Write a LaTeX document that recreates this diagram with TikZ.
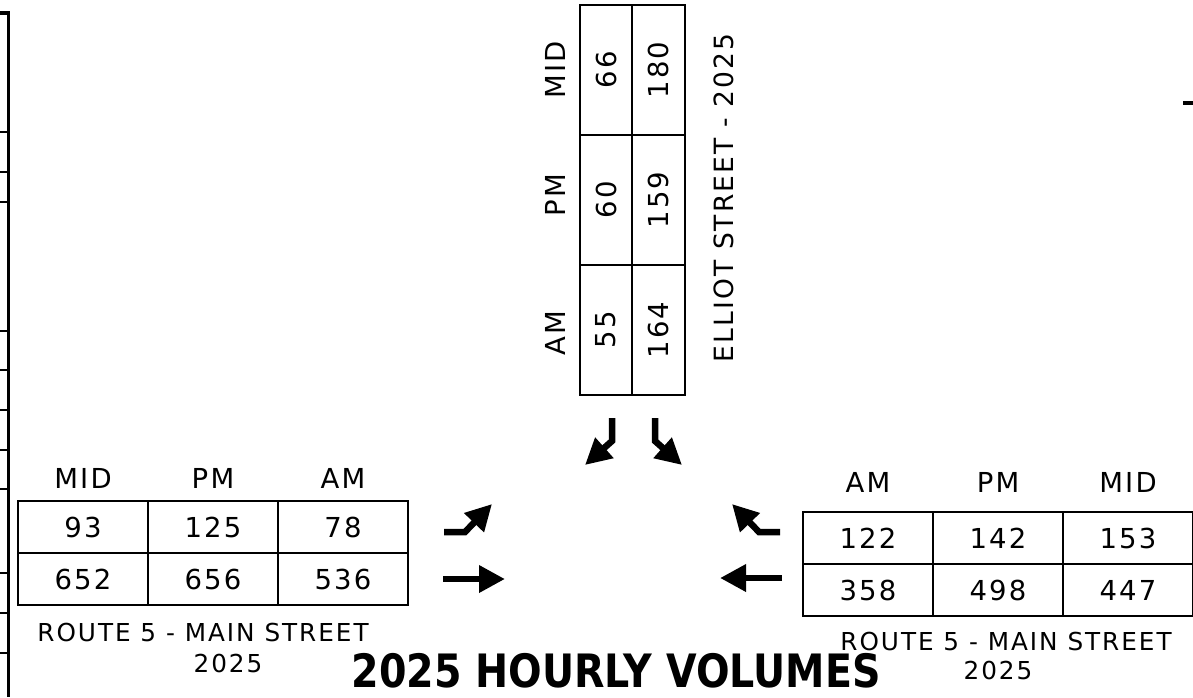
\documentclass[tikz,border=0pt]{standalone}
\usepackage{fontspec}
\setmainfont{DejaVu Sans}[LetterSpace=8]
\newfontfamily\titlefont{DejaVu Sans}[FakeStretch=0.86]
\usetikzlibrary{arrows.meta,positioning}

\begin{document}
\begin{tikzpicture}[x=1pt,y=-1pt,
  cell/.style={draw,line width=1.7pt,minimum width=130pt,minimum height=52pt,inner sep=0pt,outer sep=0pt,font=\fontsize{27.5}{27.5}\selectfont},
  vcell/.style={cell,rotate=90,minimum width=130pt,minimum height=52.5pt},
  head/.style={inner sep=0pt,font=\fontsize{27.5}{27.5}\selectfont},
  road/.style={inner sep=0pt,font=\fontsize{24.7}{24.7}\selectfont},
  heading/.style={inner sep=0pt,font=\titlefont\bfseries\fontsize{46}{46}\selectfont},
  flow/.style={line width=6.5pt,-{Triangle[length=26pt,width=26pt]}}
]
  \useasboundingbox (0,0) rectangle (1193,697);

  % sheet border
  \draw[line width=3.2pt] (0,13) -- (8.5,13) -- (8.5,697);
  \foreach \ty in {132,172,202,331,370,410,450,489,573,613,653}
    \draw[line width=1.2pt] (0,\ty) -- (7,\ty);
  \draw[line width=3.5pt] (1183,103) -- (1193,103);

  % Elliot Street (southbound)
  \node[vcell] (e11) at (606,70) {66};
  \node[vcell] (e12) at (658.5,70) {180};
  \node[vcell] (e21) at (606,200) {60};
  \node[vcell] (e22) at (658.5,200) {159};
  \node[vcell] (e31) at (606,330) {55};
  \node[vcell] (e32) at (658.5,330) {164};
  \node[head,rotate=90] (emid) at (555,70) {MID};
  \node[head,rotate=90] (epm) at (555,195) {PM};
  \node[head,rotate=90] (eam) at (555,333) {AM};
  \node[road,rotate=90,font=\fontsize{26.5}{26.5}\selectfont] (elliot) at (724,198) {ELLIOT STREET - 2025};

  % Route 5 west leg (eastbound)
  \node[cell] (l11) at (83,527) {93};
  \node[cell,right=0pt of l11] (l12) {125};
  \node[cell,right=0pt of l12] (l13) {78};
  \node[cell,below=0pt of l11] (l21) {652};
  \node[cell,right=0pt of l21] (l22) {656};
  \node[cell,right=0pt of l22] (l23) {536};
  \node[head,above=12pt of l11] (lmid) {MID};
  \node[head,above=12pt of l12] (lpm) {PM};
  \node[head,above=12pt of l13] (lam) {AM};
  \node[road,below=18pt of l22,xshift=-10pt] (lroute) {ROUTE 5 - MAIN STREET};
  \node[road,below=12pt of lroute,xshift=25pt] (lyear) {2025};

  % Route 5 east leg (westbound)
  \node[cell] (r11) at (868,538) {122};
  \node[cell,right=0pt of r11] (r12) {142};
  \node[cell,right=0pt of r12] (r13) {153};
  \node[cell,below=0pt of r11] (r21) {358};
  \node[cell,right=0pt of r21] (r22) {498};
  \node[cell,right=0pt of r22] (r23) {447};
  \node[head,above=19pt of r11] (ram) {AM};
  \node[head,above=19pt of r12] (rpm) {PM};
  \node[head,above=19pt of r13] (rmid) {MID};
  \node[road,below=16pt of r22,xshift=8pt] (rroute) {ROUTE 5 - MAIN STREET};
  \node[road,below=10pt of rroute,xshift=-8pt] (ryear) {2025};

  \node[heading] (title) at (616,671) {2025 HOURLY VOLUMES};

  % turning movements
  \draw[flow] (612,418) -- (612,441) -- (585,465);
  \draw[flow] (655,418) -- (655,441) -- (682,465);
  \draw[flow] (444,532) -- (465,532) -- (492,504);
  \draw[flow] (443,579) -- (505,579);
  \draw[flow] (780,532) -- (759,532) -- (732,504);
  \draw[flow] (782,578) -- (720,578);
\end{tikzpicture}
\end{document}
